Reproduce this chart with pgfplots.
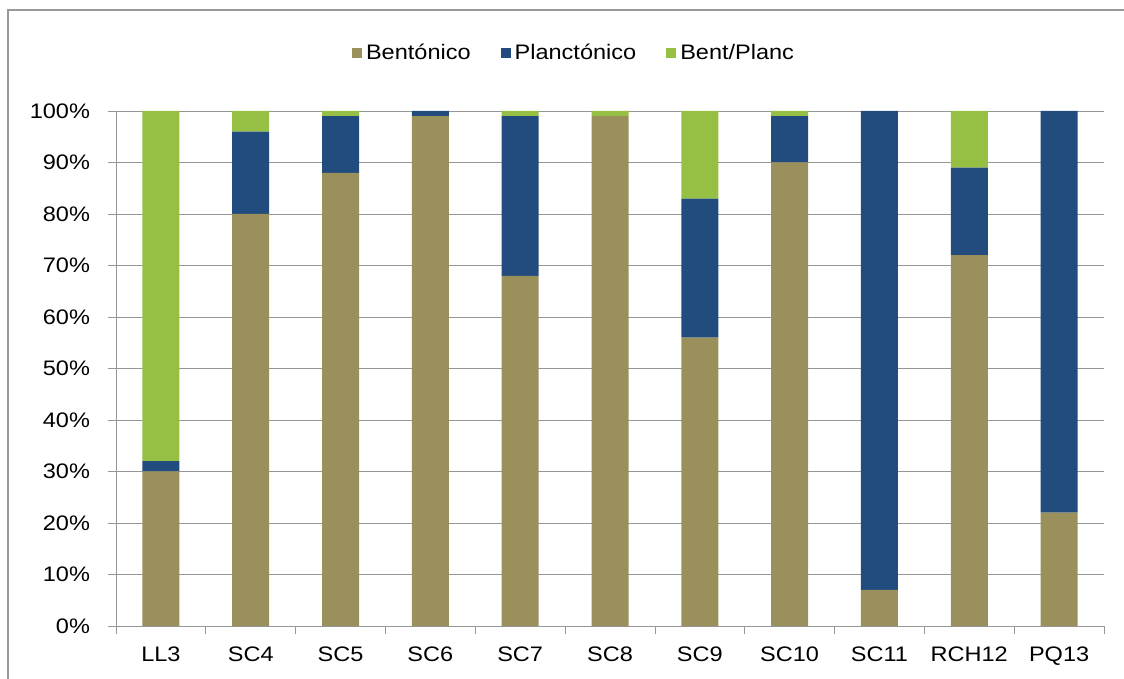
\documentclass[border=0pt]{standalone}
\usepackage{pgfplots}
\pgfplotsset{compat=1.18}
\usepackage{fontspec}
\setmainfont{Liberation Sans}[FakeStretch=1.12]
\definecolor{bent}{RGB}{154,144,92}
\definecolor{planc}{RGB}{34,76,126}
\definecolor{bp}{RGB}{150,192,68}
\definecolor{gridc}{RGB}{150,150,150}
\pgfplotstableread{
x  bent planc bp
0  30   2     68
1  80   16    4
2  88   11    1
3  99   1     0
4  68   31    1
5  99   0     1
6  56   27    17
7  90   9     1
8  7    93    0
9  72   17    11
10 22   78    0
}\datatable
\begin{document}
\begin{tikzpicture}
\begin{axis}[
  at={(58pt,26.5pt)}, anchor=south west,
  scale only axis,
  width=494pt, height=257.5pt,
  ybar stacked, bar width=18.5pt,
  xmin=-0.5, xmax=10.5, ymin=0, ymax=100,
  xtick={0,...,10},
  xticklabels={LL3,SC4,SC5,SC6,SC7,SC8,SC9,SC10,SC11,RCH12,PQ13},
  minor xtick={-0.5,0.5,...,10.5},
  major x tick style={draw=none},
  minor x tick style={gridc, thin},
  ytick={0,10,...,100},
  yticklabel={\pgfmathprintnumber{\tick}\%},
  /pgf/number format/assume math mode=true,
  tick align=outside,
  major tick length=4pt, minor tick length=4pt,
  y tick style={gridc, thin},
  xtick pos=bottom, ytick pos=left,
  axis x line*=bottom, axis y line*=left,
  axis line style={gridc, thin},
  ymajorgrids, grid style={gridc, thin},
  ticklabel style={font=\fontsize{10.5}{12}\selectfont, text=black},
  xticklabel style={yshift=-3pt},
  yticklabel style={xshift=-5.5pt},
  legend columns=3,
  legend style={at={(0.4646,1.1126)}, anchor=center, draw=none, fill=none,
    font=\fontsize{10.5}{12}\selectfont,
    /tikz/every even column/.append style={column sep=13pt}},
  legend cell align=left,
  legend image code/.code={\fill[#1] (0pt,-2.5pt) rectangle (5pt,2.5pt);},
]
\addplot[draw=none, fill=bent] table[x=x,y=bent]{\datatable};
\addplot[draw=none, fill=planc] table[x=x,y=planc]{\datatable};
\addplot[draw=none, fill=bp] table[x=x,y=bp]{\datatable};
\legend{Bentónico,Planctónico,Bent/Planc}
\end{axis}
\draw[gray!80, line width=1pt] (4pt,0pt) -- (4pt,334.5pt) -- (562pt,334.5pt);
\pgfresetboundingbox
\useasboundingbox (0,0) rectangle (562pt,339.5pt);
\end{tikzpicture}
\end{document}
